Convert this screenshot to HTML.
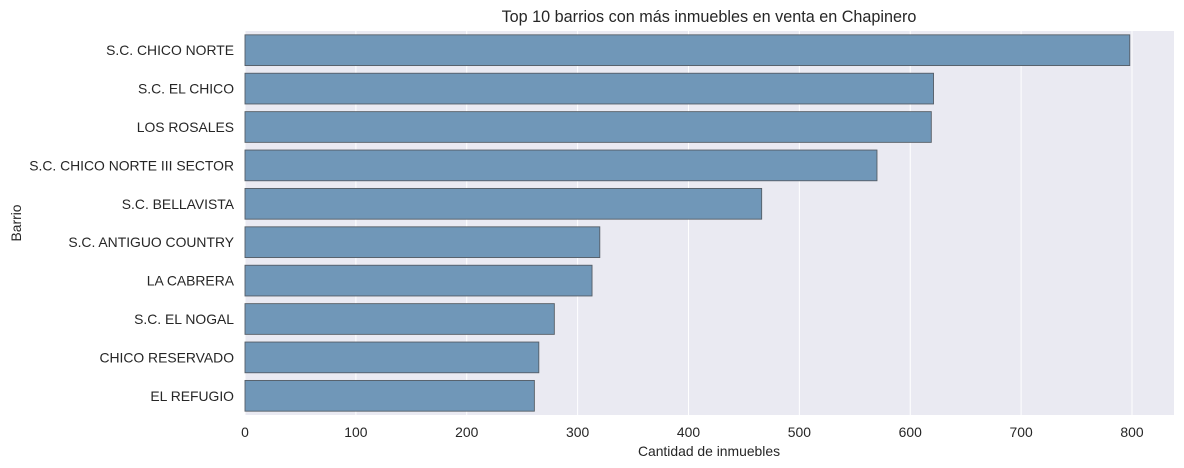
<!DOCTYPE html>
<html><head><meta charset="utf-8"><style>
body{margin:0;background:#fff;}
svg{display:block;font-family:"Liberation Sans","DejaVu Sans",sans-serif;}
</style></head><body>
<svg id="chart" width="1184" height="468" xmlns="http://www.w3.org/2000/svg">
<rect x="245" y="31" width="929" height="384" fill="#eaeaf2"/>
<g id="grid"></g>
<g id="bars"></g>
<g id="xticks"></g>
<g id="yticks"></g>
<text x="709" y="22" text-anchor="middle" font-size="16.2" fill="#262626">Top 10 barrios con más inmuebles en venta en Chapinero</text>
<text x="709" y="456" text-anchor="middle" font-size="13.9" fill="#262626">Cantidad de inmuebles</text>
<text transform="translate(21,223) rotate(-90)" text-anchor="middle" font-size="13.9" fill="#262626">Barrio</text>
</svg>
<script>
const categories = ["S.C. CHICO NORTE","S.C. EL CHICO","LOS ROSALES","S.C. CHICO NORTE III SECTOR","S.C. BELLAVISTA","S.C. ANTIGUO COUNTRY","LA CABRERA","S.C. EL NOGAL","CHICO RESERVADO","EL REFUGIO"];
const counts = [798,621,619,570,466,320,313,279,265,261];
const xTicks = [0,100,200,300,400,500,600,700,800];

const NS="http://www.w3.org/2000/svg";
const L=245,R=1174,T=31,B=415;
const xMax=Math.max(...counts)*1.05;
const x=v=>L+v/xMax*(R-L);
const band=(B-T)/categories.length;
const y=i=>T+band*i;
function mk(tag,attrs,parent){const e=document.createElementNS(NS,tag);for(const k in attrs)e.setAttribute(k,attrs[k]);parent.appendChild(e);return e;}
const grid=document.getElementById('grid'),bars=document.getElementById('bars'),xt=document.getElementById('xticks'),yt=document.getElementById('yticks');
xTicks.forEach(t=>{
  const g=mk('line',{x1:x(t),x2:x(t),y1:T,y2:B,stroke:'#fff','stroke-width':1},grid);
  
  
  const tx=mk('text',{x:x(t),y:B+22,'text-anchor':'middle','font-size':13.9,fill:'#262626'},xt);
  tx.textContent=t;
  
  
});
categories.forEach((c,i)=>{
  const r=mk('rect',{x:L,y:y(i)+band*0.1,width:x(counts[i])-L,height:band*0.8,fill:'#7097b8',stroke:'#555d66','stroke-width':0.9},bars);
  
  
  const tx=mk('text',{x:L-11,y:y(i)+band/2+5,'text-anchor':'end','font-size':13.9,fill:'#262626'},yt);
  tx.textContent=c;
  
  
});
</script>
</body></html>
